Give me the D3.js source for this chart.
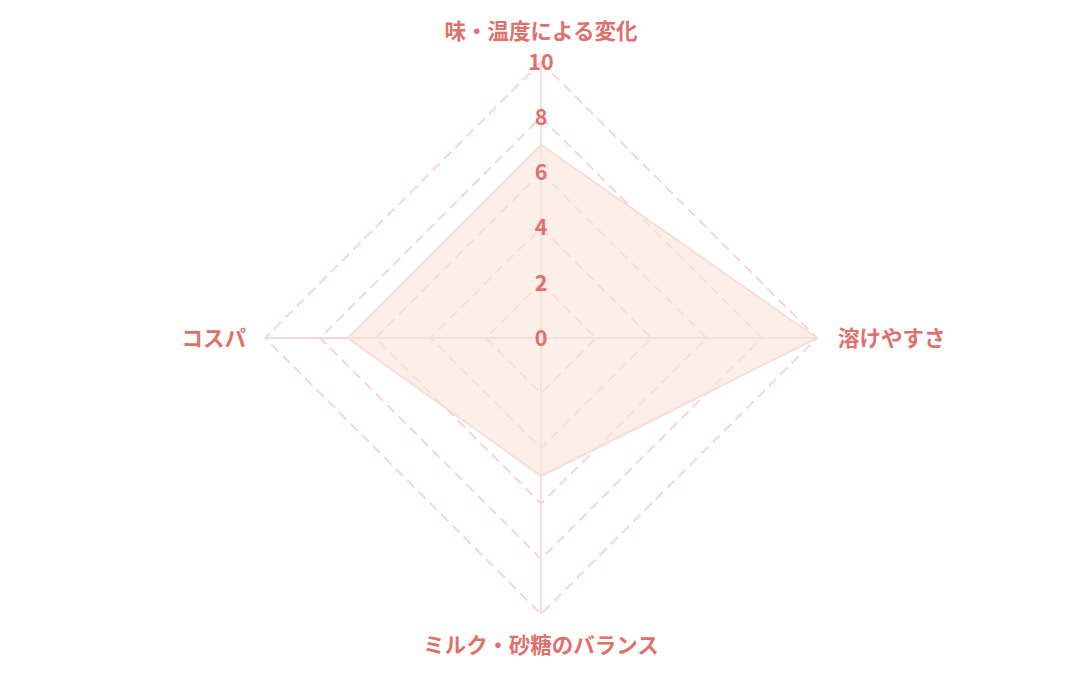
<!DOCTYPE html>
<html>
<head>
<meta charset="utf-8">
<script src="https://cdn.jsdelivr.net/npm/d3@7"></script>
<style>
  body { margin: 0; background: #ffffff; }
  svg { display: block; font-family: "Noto Sans CJK JP", "Noto Sans", sans-serif; }
</style>
</head>
<body>
<svg id="chart" width="1080" height="675"></svg>
<script>

//// DATA

// Axis names, clockwise from the top
var categories = ["味・温度による変化", "溶けやすさ", "ミルク・砂糖のバランス", "コスパ"];
// Score for each axis
var scores = [7, 10, 5, 7];
// Radial tick labels
var tickValues = [0, 2, 4, 6, 8, 10];


//// MAIN

var cx = 541, cy = 338, radius = 276;
var textColor = "#e0706c";

var svg = d3.select("#chart");
var g = svg.append("g").attr("transform", "translate(" + cx + "," + cy + ")");

// radial scale
var r = d3.scaleLinear().domain([0, 10]).range([0, radius]);

// angle of each axis, top first, going clockwise
var angle = function(i) { return -Math.PI / 2 + i * 2 * Math.PI / categories.length; };

var point = function(v, i) {
    return [r(v) * Math.cos(angle(i)), r(v) * Math.sin(angle(i))];
};

var line = d3.line();

// dashed grid rings (one per tick except 0)
g.selectAll("path.ring")
    .data(tickValues.filter(function(d) { return d > 0; }))
    .enter()
    .append("path")
    .attr("class", "ring")
    .attr("d", function(d) {
        return line(categories.map(function(c, i) { return point(d, i); })) + "Z";
    })
    .attr("fill", "none")
    .attr("stroke", "#f8d0d6")
    .attr("stroke-width", 1.8)
    .attr("stroke-dasharray", "10,6");

// spokes
g.selectAll("line.spoke")
    .data(categories)
    .enter()
    .append("line")
    .attr("class", "spoke")
    .attr("x1", 0).attr("y1", 0)
    .attr("x2", function(d, i) { return point(10, i)[0]; })
    .attr("y2", function(d, i) { return point(10, i)[1]; })
    .attr("stroke", "#f7d6da")
    .attr("stroke-width", 1.8);

// data polygon, over the grid so it mutes it
g.append("path")
    .attr("d", line(scores.map(function(v, i) { return point(v, i); })) + "Z")
    .attr("fill", "rgba(250, 228, 220, 0.6)")
    .attr("stroke", "rgba(246, 218, 212, 0.9)")
    .attr("stroke-width", 2);

// tick labels along the top axis
g.selectAll("text.tick")
    .data(tickValues)
    .enter()
    .append("text")
    .attr("class", "tick")
    .attr("x", 0)
    .attr("y", function(d) { return -r(d); })
    .attr("dy", "0.36em")
    .attr("text-anchor", "middle")
    .attr("fill", textColor)
    .attr("font-size", 21.5)
    .attr("font-weight", "bold")
    .text(function(d) { return d; });

// category labels
var labelPos = [
    { x: 0, y: -radius - 31, anchor: "middle" },
    { x: radius + 21, y: 0, anchor: "start" },
    { x: 0, y: radius + 31, anchor: "middle" },
    { x: -radius - 19, y: 0, anchor: "end" }
];

g.selectAll("text.cat")
    .data(categories)
    .enter()
    .append("text")
    .attr("class", "cat")
    .attr("x", function(d, i) { return labelPos[i].x; })
    .attr("y", function(d, i) { return labelPos[i].y; })
    .attr("dy", "0.36em")
    .attr("text-anchor", function(d, i) { return labelPos[i].anchor; })
    .attr("fill", textColor)
    .attr("font-size", 21.5)
    .attr("font-weight", "bold")
    .text(function(d) { return d; });

</script>
</body>
</html>
